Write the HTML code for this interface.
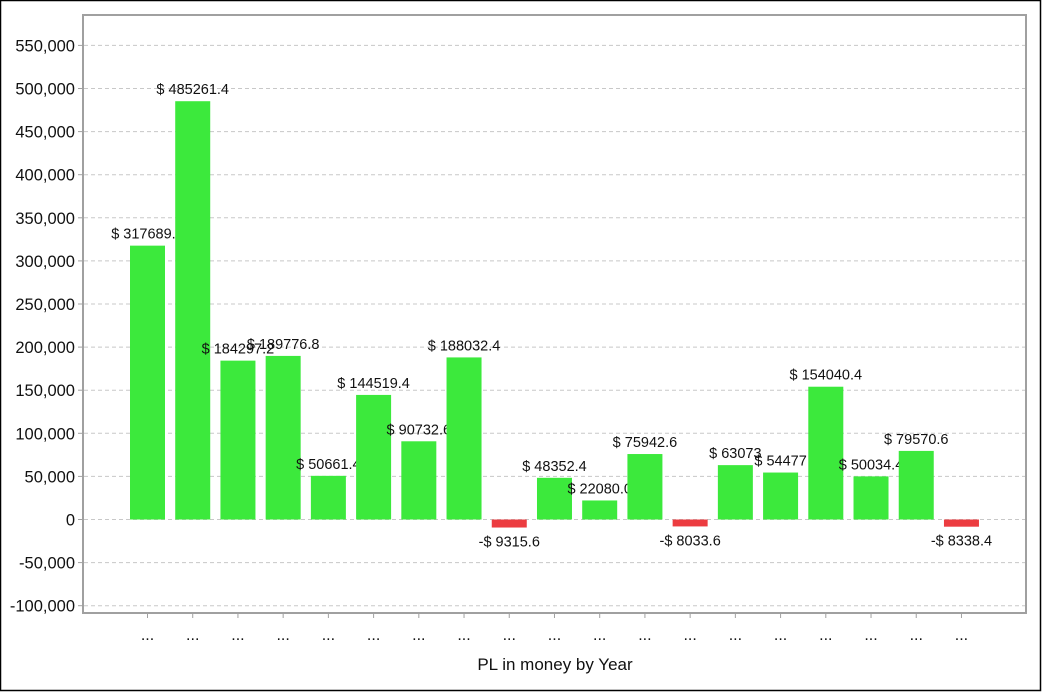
<!DOCTYPE html>
<html><head><meta charset="utf-8"><style>
html,body{margin:0;padding:0;background:#fff}
svg{display:block}
text{font-family:"Liberation Sans",Arial,sans-serif;fill:#111}
</style></head><body>
<svg id="s" width="1042" height="692" xmlns="http://www.w3.org/2000/svg">
<rect x="0.5" y="0.5" width="1040" height="690" fill="#fff" stroke="#000" stroke-width="1.5"/>
<g id="g"></g>
<rect x="83" y="15" width="943" height="598" fill="none" stroke="#a0a0a0" stroke-width="2"/>
<text x="555" y="670" font-size="17" text-anchor="middle">PL in money by Year</text>
</svg>
<script>
var g=document.getElementById('g'),h='';
function Y(v){return 519.5-v*43.1/50000;}
for(var v=-100000;v<=550000;v+=50000){var y=Y(v);
h+='<line x1="84" x2="1025" y1="'+y+'" y2="'+y+'" stroke="#c8c8c8" stroke-dasharray="4,3"/>';
h+='<line x1="78" x2="83" y1="'+y+'" y2="'+y+'" stroke="#a0a0a0"/>';
h+='<text x="75" y="'+(y+6)+'" font-size="16.5" text-anchor="end">'+v.toLocaleString('en-US')+'</text>';}
var vals=[317689.2,485261.4,184297.2,189776.8,50661.4,144519.4,90732.6,188032.4,-9315.6,48352.4,22080.0,75942.6,-8033.6,63073,54477,154040.4,50034.4,79570.6,-8338.4];
var labs=['$ 317689.2','$ 485261.4','$ 184297.2','$ 189776.8','$ 50661.4','$ 144519.4','$ 90732.6','$ 188032.4','-$ 9315.6','$ 48352.4','$ 22080.0','$ 75942.6','-$ 8033.6','$ 63073','$ 54477','$ 154040.4','$ 50034.4','$ 79570.6','-$ 8338.4'];
for(var i=0;i<vals.length;i++){var c=147.5+i*45.22,v=vals[i],t=Y(Math.max(v,0)),b=Y(Math.min(v,0));
h+='<rect x="'+(c-17.5)+'" y="'+t+'" width="35" height="'+(b-t)+'" fill="'+(v<0?'#ec3c40':'#3ce93c')+'"/>';
h+='<text x="'+c+'" y="'+(v<0?b+19:t-7)+'" font-size="14.5" text-anchor="middle">'+labs[i]+'</text>';
h+='<line x1="'+c+'" x2="'+c+'" y1="613" y2="618" stroke="#a0a0a0"/>';
h+='<text x="'+c+'" y="640" font-size="16" text-anchor="middle">...</text>';}
g.innerHTML=h;
</script>
</body></html>
